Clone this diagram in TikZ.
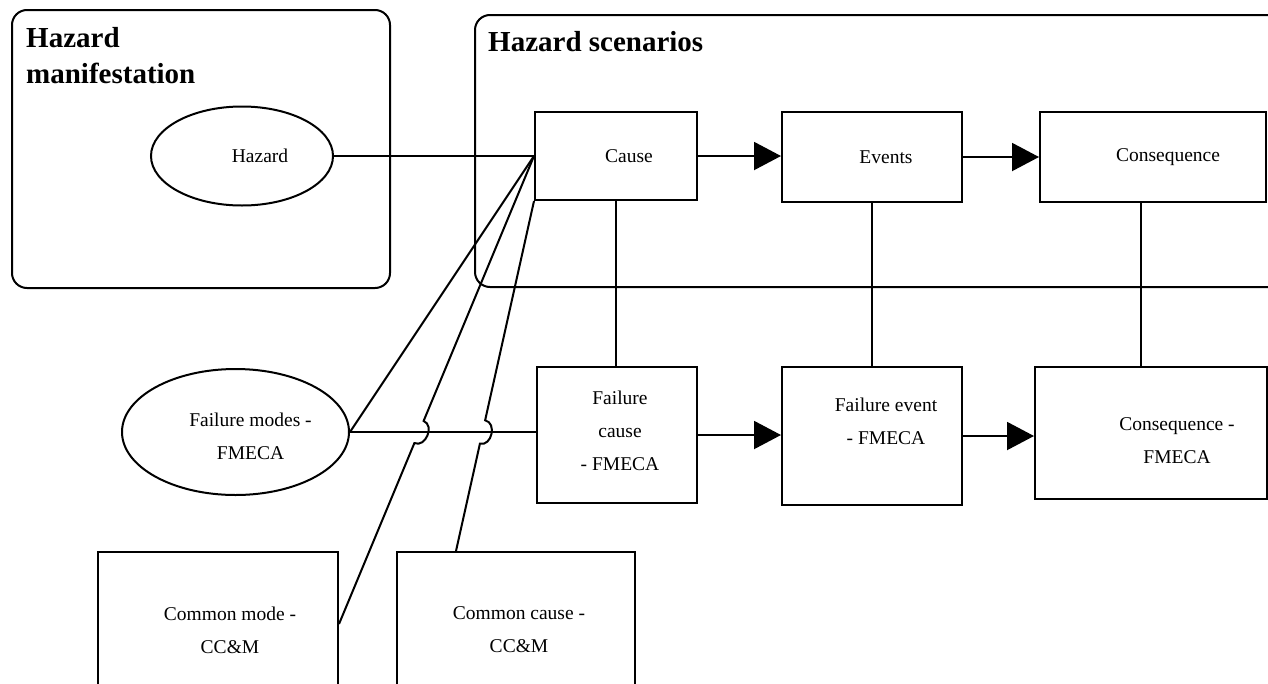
\documentclass[tikz,border=0pt]{standalone}
\usepackage{fontspec}
\setmainfont{Liberation Serif}
\usetikzlibrary{shapes.geometric,arrows.meta,calc,intersections}

\begin{document}
\begin{tikzpicture}[x=1pt,y=1pt,
  wire/.style={line width=2pt},
  box/.style={draw, line width=2pt, rectangle, inner sep=0pt},
  blob/.style={draw, line width=2pt, ellipse, inner sep=0pt},
  frame/.style={draw, line width=2pt, rectangle, rounded corners=15pt, inner sep=0pt},
  lbl/.style={font=\fontsize{19.5}{33}\selectfont, align=center, inner sep=0pt},
  head/.style={font=\bfseries\fontsize{29}{36}\selectfont, align=left, inner sep=0pt},
  tip/.style={-{Triangle[length=27pt,width=28pt]}}]
\useasboundingbox (0,0) rectangle (1268,-683);
\clip (0,0) rectangle (1268,-683);

\node[frame, minimum width=378, minimum height=278] (hm) at (201,-149) {};
\node[frame, minimum width=846, minimum height=272] (hs) at (898,-151) {};
\node[head, anchor=north west] (hmt) at (26,-27) {Hazard\\manifestation};
\node[head, anchor=north west] (hst) at (488,-31) {Hazard scenarios};

\node[blob, minimum width=182, minimum height=99, label={[lbl,xshift=18pt]center:Hazard}] (hz) at (242,-156) {};
\node[box, minimum width=162, minimum height=88, label={[lbl,xshift=13pt]center:Cause}] (ca) at (616,-156) {};
\node[box, minimum width=180, minimum height=90, label={[lbl,xshift=14pt]center:Events}] (ev) at (872,-157) {};
\node[box, minimum width=226, minimum height=90, label={[lbl,xshift=15pt]center:Consequence}] (co) at (1153,-157) {};

\node[blob, minimum width=227, minimum height=126, label={[lbl,xshift=15pt,yshift=-4.5pt]center:Failure modes -\\FMECA}] (fm) at (235.5,-432) {};
\node[box, minimum width=160, minimum height=136, label={[lbl,xshift=3pt,yshift=4.5pt]center:Failure\\cause\\- FMECA}] (fc) at (617,-435) {};
\node[box, minimum width=180, minimum height=138, label={[lbl,xshift=14pt,yshift=15pt]center:Failure event\\- FMECA}] (fe) at (872,-436) {};
\node[box, minimum width=232, minimum height=132, label={[lbl,xshift=26pt,yshift=-8pt]center:Consequence -\\FMECA}] (fco) at (1151,-433) {};

\node[box, minimum width=240, minimum height=144, label={[lbl,xshift=12pt,yshift=-6pt]center:Common mode -\\CC\&M}] (cm) at (218,-624) {};
\node[box, minimum width=238, minimum height=144, label={[lbl,xshift=3pt,yshift=-6pt]center:Common cause -\\CC\&M}] (cc) at (516,-624) {};
\coordinate (ccin) at ($(cc.north west)!0.25!(cc.north east)$);

\path[draw,wire] (hz.east) -- (hz.east -| ca.west);
\path[draw,wire,tip] (ca.east) -- (ca.east -| ev.west);
\path[draw,wire,tip] (ev.east) -- (ev.east -| co.west);
\path[draw,wire,tip] (fc.east) -- (fc.east -| fe.west);
\path[draw,wire,tip] (fe.east) -- (fe.east -| fco.west);

\path[draw,wire] (ca.south) -- (ca.south |- fc.north);
\path[draw,wire] (ev.south) -- (fe.north);
\path[draw,wire] ([xshift=-12pt]co.south) -- ([xshift=-12pt]co.south |- fco.north);

\path[draw,wire,name path=mid] (fm.east) -- (fm.east -| fc.west);
\path[name path=d2] (ca.west) -- (cm.east);
\path[name path=d3] (ca.south west) -- (ccin);
\path[name intersections={of=mid and d2, by=x2}];
\path[name intersections={of=mid and d3, by=x3}];

\path[draw,wire] (ca.west) -- (fm.east);
\path[draw,wire] (ca.west) -- ($(x2)!12pt!(ca.west)$) to[bend left=90,looseness=1.3] ($(x2)!12pt!(cm.east)$) -- (cm.east);
\path[draw,wire] (ca.south west) -- ($(x3)!12pt!(ca.south west)$) to[bend left=90,looseness=1.3] ($(x3)!12pt!(ccin)$) -- (ccin);
\end{tikzpicture}
\end{document}
